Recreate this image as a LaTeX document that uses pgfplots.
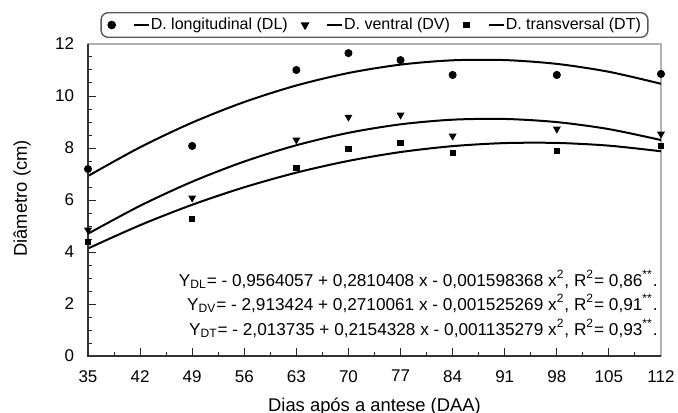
\documentclass[border=0pt]{standalone}
\usepackage{fontspec}
\setmainfont{Liberation Sans}
\usepackage{pgfplots}
\pgfplotsset{compat=1.18}

\begin{document}
\begin{tikzpicture}
\begin{axis}[
  scale only axis, width=286.5pt, height=156pt,
  xmin=35, xmax=112, ymin=0, ymax=12,
  xtick={35,42,...,112}, ytick={0,2,...,12},
  minor x tick num=1, minor y tick num=3,
  tick pos=left, tick align=inside,
  major tick length=4pt, minor tick length=2pt,
  tick style={black!85, line width=0.5pt},
  tick label style={font=\fontsize{8.5}{10}\selectfont},
  yticklabel style={xshift=-3.4pt},
  xticklabel style={yshift=-3.6pt},
  /pgf/number format/assume math mode=true,
  xlabel={Dias após a antese (DAA)}, ylabel={Diâmetro (cm)},
  label style={font=\fontsize{9.2}{11}\selectfont},
  xlabel style={at={(axis description cs:0.5,0)}, anchor=base, yshift=-27.5pt},
  ylabel style={at={(axis description cs:-0.1152,0.505)}, anchor=center},
  axis line style={gray!60, line width=0.6pt},
  clip=false,
  legend columns=3,
  legend style={at={(axis description cs:0.5,1)}, anchor=south, yshift=3pt,
    draw=black!65, line width=0.7pt, rounded corners=3.5pt,
    font=\fontsize{8}{9.6}\selectfont, inner xsep=3.5pt, inner ysep=1.5pt,
    nodes={inner xsep=0pt, inner ysep=1pt},
    column sep=0pt,
    /tikz/every even column/.append style={column sep=7pt}},
  legend image code/.code={
    \draw[mark repeat=2,mark phase=2] plot coordinates {(0pt,0pt)(0.5pt,0pt)(1pt,0pt)};
    \draw[mark=none, solid, black, line width=0.9pt] (11.5pt,0pt) -- (19pt,0pt);
    \path (19.7pt,0pt);
  },
]
% observed points
\addplot[only marks, mark=*, mark size=1.8pt, black]
  coordinates {(35,7.19)(49,8.08)(63,11.0)(70,11.65)(77,11.38)(84,10.81)(98,10.81)(112,10.85)};
\addlegendentry{D. longitudinal (DL)}
\addplot[only marks, mark=triangle*, mark size=1.9pt, mark options={rotate=180}, black]
  coordinates {(35,4.85)(49,6.08)(63,8.31)(70,9.19)(77,9.27)(84,8.46)(98,8.73)(112,8.54)};
\addlegendentry{D. ventral (DV)}
\addplot[only marks, mark=square*, mark size=1.35pt, black]
  coordinates {(35,4.38)(49,5.27)(63,7.23)(70,7.96)(77,8.19)(84,7.81)(98,7.88)(112,8.08)};
\addlegendentry{D. transversal (DT)}
% fitted quadratic curves
\addplot[black, line width=1pt, smooth, forget plot]
  coordinates {(35,6.922)(42,8.028)(49,8.977)(56,9.769)(63,10.405)(70,10.884)
               (77,11.207)(84,11.373)(91,11.382)(98,11.235)(105,10.931)(112,10.470)};
\addplot[black, line width=1pt, smooth, forget plot]
  coordinates {(35,4.703)(42,5.778)(49,6.704)(56,7.480)(63,8.106)(70,8.583)
               (77,8.911)(84,9.089)(91,9.117)(98,8.996)(105,8.726)(112,8.306)};
\addplot[black, line width=1pt, smooth, forget plot]
  coordinates {(35,4.136)(42,5.032)(49,5.817)(56,6.490)(63,7.053)(70,7.504)
               (77,7.844)(84,8.072)(91,8.189)(98,8.195)(105,8.090)(112,7.874)};
\draw[black!80, line width=0.6pt] (rel axis cs:0,1) -- (rel axis cs:0,0) -- (rel axis cs:1,0);
\node[anchor=east, align=right, font=\fontsize{8.6}{12.25}\selectfont, inner sep=0pt]
  at (rel axis cs:0.9948,0.168) {%
  Y\textsubscript{DL}= - 0,9564057 + 0,2810408 x - 0,001598368 x\textsuperscript{2}, R\textsuperscript{2}= 0,86\textsuperscript{**}.\\
  Y\textsubscript{DV}= - 2,913424 + 0,2710061 x - 0,001525269 x\textsuperscript{2}, R\textsuperscript{2}= 0,91\textsuperscript{**}.\\
  Y\textsubscript{DT}= - 2,013735 + 0,2154328 x - 0,001135279 x\textsuperscript{2}, R\textsuperscript{2}= 0,93\textsuperscript{**}.};
\end{axis}
\pgfresetboundingbox
\path[use as bounding box] ([xshift=-44pt,yshift=-28pt]current axis.south west)
  rectangle ([xshift=8.5pt,yshift=22pt]current axis.north east);
\end{tikzpicture}
\end{document}
